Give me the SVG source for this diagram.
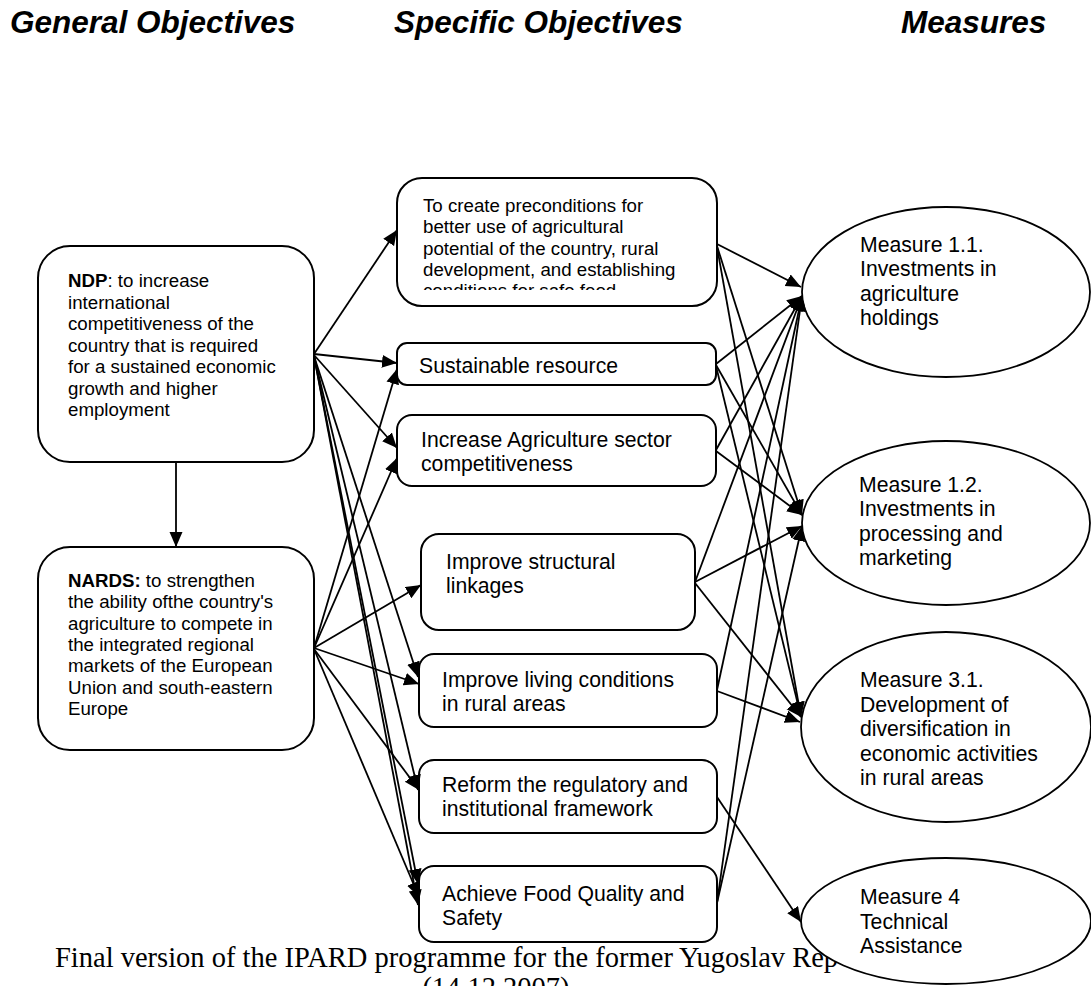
<svg xmlns="http://www.w3.org/2000/svg" width="1091" height="986" viewBox="0 0 1091 986">
<style>
.hd{font-family:"Liberation Sans",Arial,sans-serif;font-weight:bold;font-style:italic;font-size:31.5px;fill:#000}
.t1{font-family:"Liberation Sans",Arial,sans-serif;font-size:18.7px;fill:#000}
.t2{font-family:"Liberation Sans",Arial,sans-serif;font-size:21.2px;fill:#000}
.cap{font-family:"Liberation Serif","Times New Roman",serif;font-size:28.5px;fill:#000}
.box{fill:#fff;stroke:#000;stroke-width:2}
.ell{fill:#fff;stroke:#000;stroke-width:1.8}
.ln{fill:none;stroke:#000;stroke-width:1.8;marker-end:url(#ah)}
</style>
<defs>
<marker id="ah" markerUnits="userSpaceOnUse" markerWidth="16" markerHeight="14" refX="15" refY="6.5" orient="auto">
<path d="M0,0 L15,6.5 L0,13 z" fill="#000"/>
</marker>
<clipPath id="clip1"><rect x="398" y="179" width="318" height="111"/></clipPath>
</defs>
<rect width="1091" height="986" fill="#fff"/>
<g id="headers">
<text class="hd" x="10" y="33">General Objectives</text>
<text class="hd" x="394" y="33">Specific Objectives</text>
<text class="hd" x="901" y="33">Measures</text>
</g>
<g id="caption">
<text class="cap" x="55" y="967">Final version of the IPARD programme for the former Yugoslav Rep</text>
<text class="cap" x="496" y="997" text-anchor="middle">(14.12.2007)</text>
</g>
<g id="ndp">
<rect class="box" x="38" y="246" width="276" height="216" rx="32"/>
<text class="t1"><tspan x="68" y="287"><tspan font-weight="bold">NDP</tspan>: to increase</tspan><tspan x="68" y="308.5">international</tspan><tspan x="68" y="330">competitiveness of the</tspan><tspan x="68" y="351.5">country that is required</tspan><tspan x="68" y="373">for a sustained economic</tspan><tspan x="68" y="394.5">growth and higher</tspan><tspan x="68" y="416">employment</tspan></text>
</g>
<g id="nards">
<rect class="box" x="38" y="547" width="276" height="203" rx="32"/>
<text class="t1"><tspan x="68" y="587"><tspan font-weight="bold">NARDS:</tspan> to strengthen</tspan><tspan x="68" y="608.3">the ability ofthe country's</tspan><tspan x="68" y="629.6">agriculture to compete in</tspan><tspan x="68" y="650.9">the integrated regional</tspan><tspan x="68" y="672.2">markets of the European</tspan><tspan x="68" y="693.5">Union and south-eastern</tspan><tspan x="68" y="714.8">Europe</tspan></text>
</g>
<g id="so1">
<rect class="box" x="397" y="178" width="320" height="128" rx="25"/>
<text class="t1" clip-path="url(#clip1)"><tspan x="423" y="212">To create preconditions for</tspan><tspan x="423" y="233.3">better use of agricultural</tspan><tspan x="423" y="254.6">potential of the country, rural</tspan><tspan x="423" y="275.9">development, and establishing</tspan><tspan x="423" y="297.2">conditions for safe food</tspan></text>
</g>
<g id="so2">
<rect class="box" x="397" y="343" width="319" height="42" rx="10"/>
<text class="t2" x="419" y="373">Sustainable resource</text>
</g>
<g id="so3">
<rect class="box" x="397" y="415" width="319" height="71" rx="15"/>
<text class="t2"><tspan x="421" y="447">Increase Agriculture sector</tspan><tspan x="421" y="471">competitiveness</tspan></text>
</g>
<g id="so4">
<rect class="box" x="421" y="534" width="274" height="96" rx="18"/>
<text class="t2"><tspan x="446" y="569">Improve structural</tspan><tspan x="446" y="593">linkages</tspan></text>
</g>
<g id="so5">
<rect class="box" x="419" y="654" width="298" height="73" rx="15"/>
<text class="t2"><tspan x="442" y="687">Improve living conditions</tspan><tspan x="442" y="711">in rural areas</tspan></text>
</g>
<g id="so6">
<rect class="box" x="419" y="760" width="298" height="73" rx="15"/>
<text class="t2"><tspan x="442" y="792">Reform the regulatory and</tspan><tspan x="442" y="816">institutional framework</tspan></text>
</g>
<g id="so7">
<rect class="box" x="419" y="866" width="298" height="76" rx="15"/>
<text class="t2"><tspan x="442" y="901">Achieve Food Quality and</tspan><tspan x="442" y="925">Safety</tspan></text>
</g>
<g id="m11">
<ellipse class="ell" cx="946" cy="292" rx="144" ry="85"/>
<text class="t2"><tspan x="860" y="252">Measure 1.1.</tspan><tspan x="860" y="276.4">Investments in</tspan><tspan x="860" y="300.8">agriculture</tspan><tspan x="860" y="325.2">holdings</tspan></text>
</g>
<g id="m12">
<ellipse class="ell" cx="946" cy="523" rx="144" ry="82"/>
<text class="t2"><tspan x="859" y="491.7">Measure 1.2.</tspan><tspan x="859" y="516.1">Investments in</tspan><tspan x="859" y="540.5">processing and</tspan><tspan x="859" y="564.9">marketing</tspan></text>
</g>
<g id="m31">
<ellipse class="ell" cx="946" cy="727" rx="145" ry="95"/>
<text class="t2"><tspan x="860" y="687.3">Measure 3.1.</tspan><tspan x="860" y="711.7">Development of</tspan><tspan x="860" y="736.1">diversification in</tspan><tspan x="860" y="760.5">economic activities</tspan><tspan x="860" y="784.9">in rural areas</tspan></text>
</g>
<g id="m4">
<ellipse class="ell" cx="946" cy="921" rx="145" ry="63"/>
<text class="t2"><tspan x="860" y="904.3">Measure 4</tspan><tspan x="860" y="928.8">Technical</tspan><tspan x="860" y="953.3">Assistance</tspan></text>
</g>
<g id="connectors">
<path class="ln" d="M176,462 L176,547"/>
<path class="ln" d="M314,354 L397,230"/>
<path class="ln" d="M314,354 L397,363"/>
<path class="ln" d="M314,355 L397,448"/>
<path class="ln" d="M314,356 L418,677"/>
<path class="ln" d="M314,356 L418,790"/>
<path class="ln" d="M314,356 L418,884"/>
<path class="ln" d="M314,356 L418,905"/>
<path class="ln" d="M314,648 L397,369"/>
<path class="ln" d="M314,648 L397,458"/>
<path class="ln" d="M314,648 L421,585"/>
<path class="ln" d="M314,648 L419,684"/>
<path class="ln" d="M314,649 L419,790"/>
<path class="ln" d="M314,649 L419,897"/>
<path class="ln" d="M717,244 L801,287"/>
<path class="ln" d="M717,246 L802,515"/>
<path class="ln" d="M717,247 L801,717"/>
<path class="ln" d="M716,364 L802,296"/>
<path class="ln" d="M716,365 L802,515"/>
<path class="ln" d="M716,366 L801,717"/>
<path class="ln" d="M716,450 L802,296"/>
<path class="ln" d="M716,451 L802,515"/>
<path class="ln" d="M695,582 L802,296"/>
<path class="ln" d="M695,582 L802,526"/>
<path class="ln" d="M695,583 L801,717"/>
<path class="ln" d="M717,690 L802,296"/>
<path class="ln" d="M717,691 L800,722"/>
<path class="ln" d="M717,797 L801,922"/>
<path class="ln" d="M717,903 L802,296"/>
<path class="ln" d="M717,903 L802,526"/>
</g>
</svg>
